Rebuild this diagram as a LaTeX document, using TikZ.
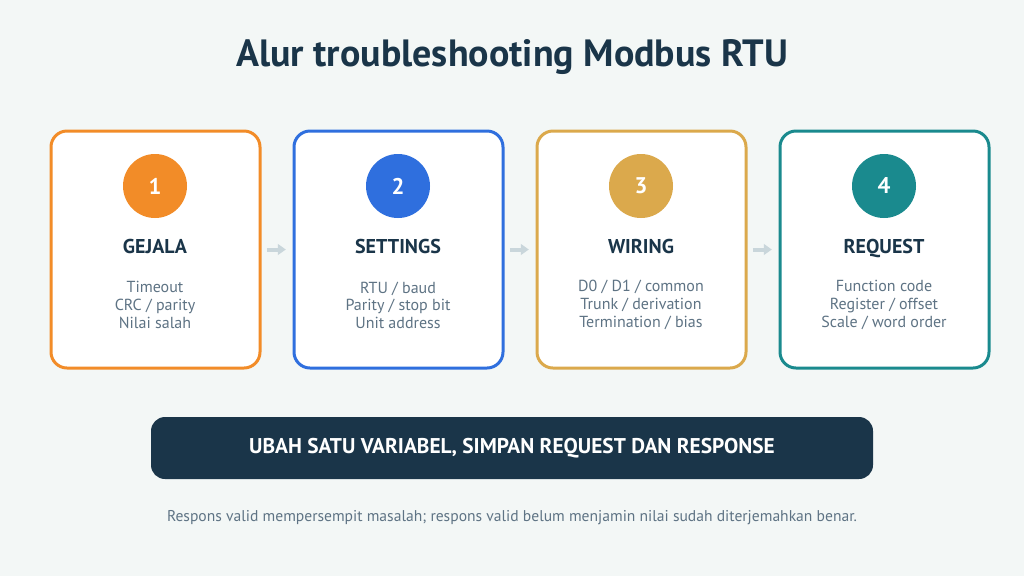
\documentclass[tikz,border=0pt]{standalone}
\usepackage{fontspec}
\setmainfont{PT Sans}
\usepackage{xcolor}
\usetikzlibrary{arrows.meta,positioning}

\definecolor{bgpale}{HTML}{F3F7F6}
\definecolor{navy}{HTML}{1A3549}
\definecolor{slate}{HTML}{5E7384}
\definecolor{cOrange}{HTML}{F28C28}
\definecolor{cBlue}{HTML}{2F6FDE}
\definecolor{cGold}{HTML}{DBA94C}
\definecolor{cTeal}{HTML}{1A8A8E}
\definecolor{arrowgrey}{HTML}{C9D6DB}

\tikzset{
  card/.style={draw=#1,line width=2.25pt,fill=white,rounded corners=12pt,
    minimum width=156.75pt,minimum height=177.75pt},
  badge/.style={circle,fill=#1,text=white,minimum size=48pt,inner sep=0pt,
    font=\fontsize{17}{20}\selectfont\bfseries},
  cardtitle/.style={text=navy,anchor=base,font=\fontsize{15}{18}\selectfont\bfseries},
  carddesc/.style={text=slate,align=center,font=\fontsize{12}{13.2}\selectfont},
  flow/.style={arrowgrey,line width=3pt,-{Triangle[length=6pt,width=8pt]},
    shorten <=4pt,shorten >=5pt}
}

\begin{document}
\begin{tikzpicture}[x=0.75pt,y=-0.75pt]
  \fill[bgpale] (0,0) rectangle (1024,576);
  \useasboundingbox (0,0) rectangle (1024,576);
  \node[text=navy,font=\fontsize{28.5}{34}\selectfont\bfseries] (title) at (512,57) {Alur troubleshooting Modbus RTU};
  % Gejala
  \node[card=cOrange] (c1) at (155.5,249.5) {};
  \node[badge=cOrange] (n1) at (155,186) {1};
  \node[cardtitle] (t1) at (155,253) {GEJALA};
  \node[carddesc] (d1) at (155,305) {Timeout\\CRC / parity\\Nilai salah};
  % Settings
  \node[card=cBlue] (c2) at (398.5,249.5) {};
  \node[badge=cBlue] (n2) at (398,186) {2};
  \node[cardtitle] (t2) at (398,253) {SETTINGS};
  \node[carddesc] (d2) at (398,305) {RTU / baud\\Parity / stop bit\\Unit address};
  % Wiring
  \node[card=cGold] (c3) at (641.5,249.5) {};
  \node[badge=cGold] (n3) at (641,186) {3};
  \node[cardtitle] (t3) at (641,253) {WIRING};
  \node[carddesc] (d3) at (641,305) {D0 / D1 / common\\Trunk / derivation\\Termination / bias};
  % Request
  \node[card=cTeal] (c4) at (884.5,249.5) {};
  \node[badge=cTeal] (n4) at (884,186) {4};
  \node[cardtitle] (t4) at (884,253) {REQUEST};
  \node[carddesc] (d4) at (884,305) {Function code\\Register / offset\\Scale / word order};
  % arrows between cards
  \draw[flow] (c1.east) -- (c2.west);
  \draw[flow] (c2.east) -- (c3.west);
  \draw[flow] (c3.east) -- (c4.west);
  % rule bar
  \node[fill=navy,rounded corners=10.5pt,minimum width=541.5pt,minimum height=46.5pt,
    text=white,font=\fontsize{16}{19}\selectfont\bfseries] (rule) at (512,448)
    {UBAH SATU VARIABEL, SIMPAN REQUEST DAN RESPONSE};
  \node[text=slate,font=\fontsize{11.7}{14}\selectfont] (note) at (512,518)
    {Respons valid mempersempit masalah; respons valid belum menjamin nilai sudah diterjemahkan benar.};
\end{tikzpicture}
\end{document}
